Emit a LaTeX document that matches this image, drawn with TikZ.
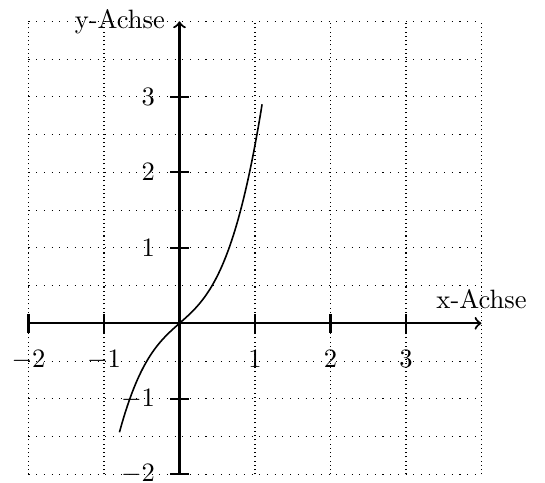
\documentclass[tikz,border=0pt]{standalone}
\begin{document}
\begin{tikzpicture}[
  hgrid/.style={line width=0.4pt, dash pattern=on 0.4pt off 2.5pt},
  vgrid/.style={line width=0.4pt, dash pattern=on 0.4pt off 1.2pt},
  axis/.style={thick,->},
  tick/.style={thick},
  lbl/.style={inner sep=0pt}
]
\useasboundingbox (-2.377,-2.102) rectangle (4.841,4.282);
% grid
\foreach \y in {-2,-1.5,...,4} \draw[hgrid] (-2,\y) -- (4,\y);
\foreach \x in {-2,...,4} \draw[vgrid] (\x,-2) -- (\x,4);
% axes
\coordinate (xs) at (-2,0);
\coordinate (xe) at (4,0);
\coordinate (ys) at (0,-2);
\coordinate (ye) at (0,4);
\draw[axis] (xs) -- (xe);
\draw[axis] (ys) -- (ye);
\node[anchor=base] (xl) at (4,0.2) {x-Achse};
\node[left] (yl) at (-0.07,4) {y-Achse};
% ticks
\foreach \x in {-2,-1,1,2,3} {
  \draw[tick] (\x,-0.125) -- (\x,0.125);
  \node[anchor=north] (xt\x) at (\x,-0.23) {$\x$};
}
\foreach \y in {-2,-1,1,2,3} {
  \draw[tick] (-0.125,\y) -- (0.125,\y);
  \node[anchor=east,lbl] (yt\y) at (-0.317,\y) {$\y$};
}
% curve
\draw[semithick,domain=-0.795:1.095,samples=80,smooth] plot (\x,{0.88*\x+1.48*\x*\x*\x});
\end{tikzpicture}
\end{document}
